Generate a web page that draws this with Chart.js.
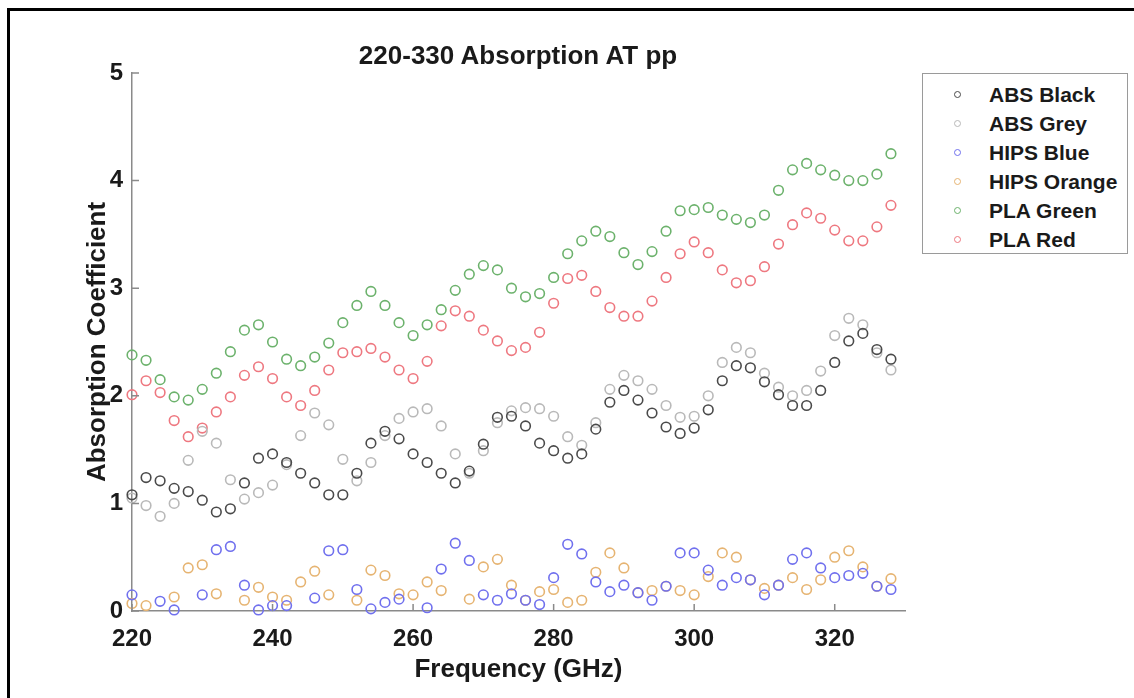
<!DOCTYPE html>
<html>
<head>
<meta charset="utf-8">
<title>220-330 Absorption AT pp</title>
<script src="https://cdn.jsdelivr.net/npm/chart.js@4.4.0/dist/chart.umd.min.js"></script>
<style>
  html, body { margin: 0; padding: 0; background: #fff; overflow: hidden; }
  body { width: 1134px; height: 698px; position: relative; font-family: "Liberation Sans", Arial, sans-serif; }
  #frame { position: absolute; left: 7px; top: 8px; width: 1300px; height: 900px; border-left: 3px solid #000; border-top: 3px solid #000; }
  #wrap { position: absolute; left: 0; top: 0; width: 1134px; height: 698px; }
  #title { position: absolute; left: 268px; width: 500px; top: 40px; text-align: center; font-weight: bold; font-size: 26px; line-height: 30px; color: #1a1a1a; }
  #legend { position: absolute; left: 922px; top: 73px; width: 206px; height: 181px; box-sizing: border-box; border: 1px solid #9a9a9a; background: #fff; }
  .row { position: absolute; left: 0; height: 29px; line-height: 29px; font-weight: bold; font-size: 21px; color: #1a1a1a; white-space: nowrap; }
  .mk { position: absolute; left: 31px; top: 11px; width: 5px; height: 5px; border: 1.5px solid; border-radius: 50%; }
  .lbl { position: absolute; left: 66px; }
</style>
</head>
<body>
<div id="frame"></div>
<div id="wrap"><canvas id="chart" width="1134" height="698"></canvas></div>
<div id="title">220-330 Absorption AT pp</div>
<div id="legend"></div>
<script>
// Frequenz-Raster (GHz)
const freqs = [220, 222, 224, 226, 228, 230, 232, 234, 236, 238, 240, 242, 244, 246, 248, 250, 252, 254, 256, 258,
  260, 262, 264, 266, 268, 270, 272, 274, 276, 278, 280, 282, 284, 286, 288, 290, 292, 294, 296, 298,
  300, 302, 304, 306, 308, 310, 312, 314, 316, 318, 320, 322, 324, 326, 328];

const absBlack = [1.08, 1.24, 1.21, 1.14, 1.11, 1.03, 0.92, 0.95, 1.19, 1.42, 1.46, 1.38, 1.28, 1.19, 1.08, 1.08, 1.28, 1.56, 1.67, 1.60,
  1.46, 1.38, 1.28, 1.19, 1.30, 1.55, 1.80, 1.81, 1.72, 1.56, 1.49, 1.42, 1.46, 1.69, 1.94, 2.05, 1.96, 1.84, 1.71, 1.65,
  1.70, 1.87, 2.14, 2.28, 2.26, 2.13, 2.01, 1.91, 1.91, 2.05, 2.31, 2.51, 2.58, 2.43, 2.34];
const absGrey = [1.05, 0.98, 0.88, 1.00, 1.40, 1.67, 1.56, 1.22, 1.04, 1.10, 1.17, 1.36, 1.63, 1.84, 1.73, 1.41, 1.21, 1.38, 1.63, 1.79,
  1.85, 1.88, 1.72, 1.46, 1.28, 1.49, 1.75, 1.86, 1.89, 1.88, 1.81, 1.62, 1.54, 1.75, 2.06, 2.19, 2.14, 2.06, 1.91, 1.80,
  1.81, 2.00, 2.31, 2.45, 2.40, 2.21, 2.08, 2.00, 2.05, 2.23, 2.56, 2.72, 2.66, 2.40, 2.24];
const hipsBlue = [0.15, null, 0.09, 0.01, null, 0.15, 0.57, 0.60, 0.24, 0.01, 0.05, 0.05, null, 0.12, 0.56, 0.57, 0.20, 0.02, 0.08, 0.11,
  null, 0.03, 0.39, 0.63, 0.47, 0.15, 0.10, 0.16, 0.10, 0.06, 0.31, 0.62, 0.53, 0.27, 0.18, 0.24, 0.17, 0.10, 0.23, 0.54,
  0.54, 0.38, 0.24, 0.31, 0.29, 0.15, 0.24, 0.48, 0.54, 0.40, 0.31, 0.33, 0.35, 0.23, 0.20];
const hipsOrange = [0.07, 0.05, null, 0.13, 0.40, 0.43, 0.16, null, 0.10, 0.22, 0.13, 0.10, 0.27, 0.37, 0.15, null, 0.10, 0.38, 0.33, 0.16,
  0.15, 0.27, 0.19, null, 0.11, 0.41, 0.48, 0.24, 0.10, 0.18, 0.20, 0.08, 0.10, 0.36, 0.54, 0.40, 0.17, 0.19, 0.23, 0.19,
  0.15, 0.32, 0.54, 0.50, 0.29, 0.21, 0.24, 0.31, 0.20, 0.29, 0.50, 0.56, 0.41, 0.23, 0.30];
const plaGreen = [2.38, 2.33, 2.15, 1.99, 1.96, 2.06, 2.21, 2.41, 2.61, 2.66, 2.50, 2.34, 2.28, 2.36, 2.49, 2.68, 2.84, 2.97, 2.84, 2.68,
  2.56, 2.66, 2.80, 2.98, 3.13, 3.21, 3.17, 3.00, 2.92, 2.95, 3.10, 3.32, 3.44, 3.53, 3.48, 3.33, 3.22, 3.34, 3.53, 3.72,
  3.73, 3.75, 3.68, 3.64, 3.61, 3.68, 3.91, 4.10, 4.16, 4.10, 4.05, 4.00, 4.00, 4.06, 4.25];
const plaRed = [2.01, 2.14, 2.03, 1.77, 1.62, 1.70, 1.85, 1.99, 2.19, 2.27, 2.16, 1.99, 1.91, 2.05, 2.24, 2.40, 2.41, 2.44, 2.36, 2.24,
  2.16, 2.32, 2.65, 2.79, 2.74, 2.61, 2.51, 2.42, 2.45, 2.59, 2.86, 3.09, 3.12, 2.97, 2.82, 2.74, 2.74, 2.88, 3.10, 3.32,
  3.43, 3.33, 3.17, 3.05, 3.07, 3.20, 3.41, 3.59, 3.70, 3.65, 3.54, 3.44, 3.44, 3.57, 3.77];

const seriesNames = ['ABS Black', 'ABS Grey', 'HIPS Blue', 'HIPS Orange', 'PLA Green', 'PLA Red'];
const seriesValues = [absBlack, absGrey, hipsBlue, hipsOrange, plaGreen, plaRed];
const xTicks = [220, 240, 260, 280, 300, 320];
const yTicks = [0, 1, 2, 3, 4, 5];

const farben = ['#4a4a4a', '#b9b9b9', '#7070ee', '#e6b472', '#6cb26c', '#ee7880'];
const fontFam = '"Liberation Sans", Arial, sans-serif';
const axisGrey = '#8a8a8a';
const textCol = '#1a1a1a';

// MATLAB-artige Ticks nach innen
const inwardTicks = {
  id: 'inwardTicks',
  afterDraw(chart) {
    const { ctx, chartArea: a, scales: { x, y } } = chart;
    ctx.save();
    ctx.strokeStyle = axisGrey;
    ctx.lineWidth = 1.5;
    ctx.beginPath();
    x.ticks.forEach(t => {
      const px = x.getPixelForValue(t.value);
      ctx.moveTo(px, a.bottom);
      ctx.lineTo(px, a.bottom - 7);
    });
    y.ticks.forEach(t => {
      const py = y.getPixelForValue(t.value);
      ctx.moveTo(a.left, py);
      ctx.lineTo(a.left + 7, py);
    });
    ctx.stroke();
    ctx.restore();
  }
};

const datasets = seriesNames.map((name, i) => ({
  label: name,
  data: freqs.map((f, j) => ({ x: f, y: seriesValues[i][j] })),
  showLine: false,
  pointStyle: 'circle',
  pointRadius: 4.8,
  pointBorderWidth: 1.6,
  pointBackgroundColor: 'rgba(0,0,0,0)',
  pointBorderColor: farben[i],
  borderColor: farben[i],
  clip: false
}));

new Chart(document.getElementById('chart').getContext('2d'), {
  type: 'scatter',
  data: { datasets },
  options: {
    responsive: false,
    animation: false,
    layout: { padding: { top: 73, right: 229, left: 0, bottom: 0 } },
    plugins: {
      legend: { display: false },
      tooltip: { enabled: false },
      title: { display: false }
    },
    scales: {
      x: {
        type: 'linear',
        min: 220,
        max: 330,
        afterBuildTicks: s => { s.ticks = xTicks.map(v => ({ value: v })); },
        afterFit: s => { s.height = 87; },
        grid: { display: false, drawTicks: false },
        border: { display: true, color: axisGrey, width: 1.5 },
        ticks: { padding: 14, color: textCol, maxRotation: 0, font: { family: fontFam, size: 24, weight: 'bold' } },
        title: {
          display: true,
          text: 'Frequency (GHz)',
          color: textCol,
          font: { family: fontFam, size: 26, weight: 'bold' },
          padding: { top: 0, bottom: 13 }
        }
      },
      y: {
        type: 'linear',
        min: 0,
        max: 5,
        afterBuildTicks: s => { s.ticks = yTicks.map(v => ({ value: v })); },
        afterFit: s => { s.width = 132; },
        grid: { display: false, drawTicks: false },
        border: { display: true, color: axisGrey, width: 1.5 },
        ticks: { padding: 9, color: textCol, font: { family: fontFam, size: 24, weight: 'bold' } },
        title: {
          display: true,
          text: 'Absorption Coefficient',
          color: textCol,
          font: { family: fontFam, size: 26, weight: 'bold' },
          padding: { top: 82, bottom: 0 }
        }
      }
    }
  },
  plugins: [inwardTicks]
});

// Legende als HTML
const legend = document.getElementById('legend');
seriesNames.forEach((name, i) => {
  const row = document.createElement('div');
  row.className = 'row';
  row.style.top = (6 + i * 29) + 'px';
  row.style.width = '100%';
  row.innerHTML = `<span class="mk" style="border-color:${farben[i]}"></span><span class="lbl">${name}</span>`;
  legend.appendChild(row);
});
</script>
</body>
</html>
